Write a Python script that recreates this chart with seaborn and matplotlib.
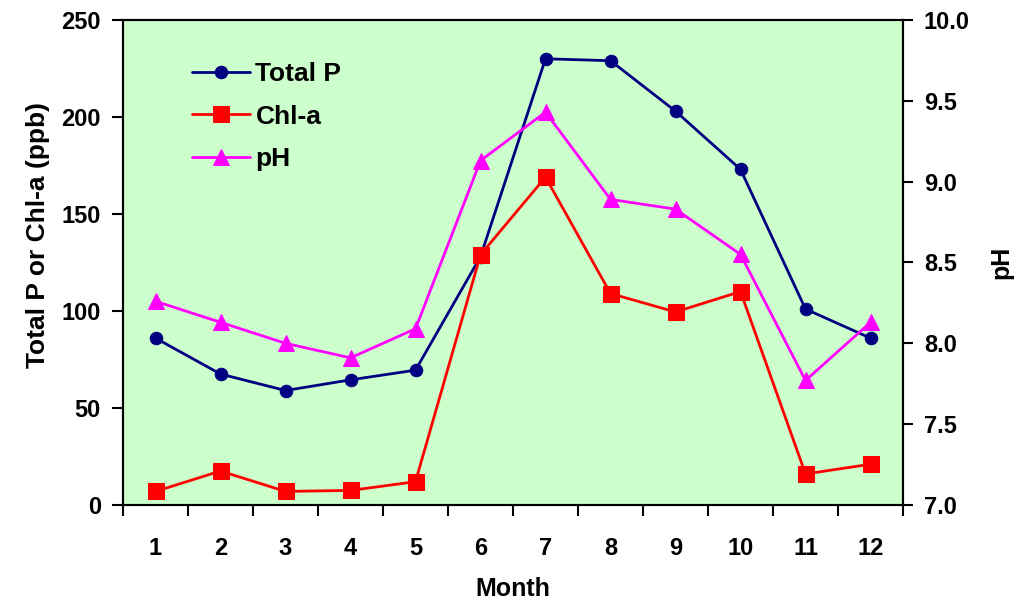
import matplotlib
matplotlib.use('Agg')
import matplotlib.pyplot as plt
import seaborn as sns
import pandas as pd
from matplotlib.ticker import FixedLocator, NullFormatter

# datos
months = ['1', '2', '3', '4', '5', '6', '7', '8', '9', '10', '11', '12']
total_p = [86, 67.5, 59, 64.5, 69.5, 128, 230, 229, 203, 173, 101, 86]
chl_a = [7, 17.5, 7, 7.5, 12, 129, 169, 109, 99.5, 110, 16, 21]
ph = [8.26, 8.13, 8.00, 7.91, 8.09, 9.13, 9.43, 8.89, 8.83, 8.55, 7.77, 8.13]

df = pd.DataFrame({'pos': range(len(months)), 'Total P': total_p,
                   'Chl-a': chl_a, 'pH': ph})

sns.set_style('ticks')
plt.rcParams['font.family'] = ['Liberation Sans', 'DejaVu Sans']
plt.rcParams['font.weight'] = 'bold'
for k in ['text.color', 'axes.labelcolor', 'xtick.color', 'ytick.color']:
    plt.rcParams[k] = 'black'

fig = plt.figure(figsize=(10.2, 6.09), dpi=100)
ax = fig.add_axes([0.1206, 0.1708, 0.7647, 0.7964])
ax.set_facecolor('#CCFFCC')
ax2 = ax.twinx()

sns.lineplot(data=df, x='pos', y='Total P', ax=ax, color='#000080', marker='o',
             markersize=9, linewidth=2, markeredgecolor='#000080', label='Total P', legend=False)
sns.lineplot(data=df, x='pos', y='Chl-a', ax=ax, color='#FF0000', marker='s',
             markersize=11, linewidth=2, markeredgecolor='#FF0000', label='Chl-a', legend=False)
sns.lineplot(data=df, x='pos', y='pH', ax=ax2, color='#FF00FF', marker='^',
             markersize=12, linewidth=2, markeredgecolor='#FF00FF', label='pH', legend=False)

ax.set_xlim(-0.5, 11.5)
ax.set_ylim(0, 250)
ax2.set_ylim(7.0, 10.0)
ax.set_yticks(range(0, 251, 50))
ax2.set_yticks([7.0, 7.5, 8.0, 8.5, 9.0, 9.5, 10.0])
ax2.set_yticklabels(['%.1f' % v for v in ax2.get_yticks()])

ax.set_xticks(range(len(months)))
ax.set_xticklabels(months)
ax.tick_params(axis='x', which='major', length=0, pad=23)
ax.xaxis.set_minor_locator(FixedLocator([i - 0.5 for i in range(13)]))
ax.xaxis.set_minor_formatter(NullFormatter())
ax.tick_params(axis='x', which='minor', length=8, width=1.5, direction='out')
ax.tick_params(axis='y', length=8, width=1.5, direction='out', pad=8)
ax2.tick_params(axis='y', length=7, width=1.5, direction='out', pad=8)

for a in (ax, ax2):
    for lab in a.get_xticklabels() + a.get_yticklabels():
        lab.set_fontsize(17)
        lab.set_fontweight('bold')
    for s in a.spines.values():
        s.set_linewidth(1.5)
        s.set_color('black')
        s.set_visible(True)

ax.set_xlabel('Month', fontsize=18, fontweight='bold', labelpad=12)
ax.set_ylabel('Total P or Chl-a (ppb)', fontsize=19, fontweight='bold', labelpad=8)
ax.yaxis.label.set_y(0.557)
ax2.set_ylabel('pH', fontsize=18, fontweight='bold', labelpad=14)

h1, l1 = ax.get_legend_handles_labels()
h2, l2 = ax2.get_legend_handles_labels()
ax.legend(h1 + h2, l1 + l2, loc='upper left', bbox_to_anchor=(0.075, 0.935), frameon=False,
          prop={'size': 19, 'weight': 'bold'}, handlelength=2.2, handletextpad=0.2,
          labelspacing=0.7, borderaxespad=0)

fig.savefig('out.png', dpi=100)
